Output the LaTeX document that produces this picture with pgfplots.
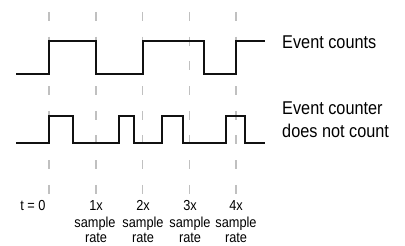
\documentclass[border=0pt]{standalone}
\usepackage{pgfplots}
\pgfplotsset{compat=1.18}
\usepackage{fontspec}
\setmainfont{Liberation Sans}
\newfontfamily\narrowfont[FakeStretch=0.88]{Liberation Sans}
\definecolor{dashgray}{HTML}{C0C0C0}
\definecolor{sig}{HTML}{111111}
\begin{document}
\begin{tikzpicture}
\begin{axis}[
  x=1pt, y=1pt, y dir=reverse,
  xmin=0, xmax=405, ymin=0, ymax=246,
  hide axis, clip=false, scale only axis,
]
% frame for bounding box
\addplot[draw=none] coordinates {(0,0) (405,246)};
% dashed sample-rate lines
\addplot[dashgray, line width=1.5pt, dash pattern=on 9pt off 15.7pt] coordinates {(49,12) (49,195)};
\addplot[dashgray, line width=1.5pt, dash pattern=on 9pt off 15.7pt] coordinates {(95.75,12) (95.75,195)};
\addplot[dashgray, line width=1.5pt, dash pattern=on 9pt off 15.7pt] coordinates {(142.5,12) (142.5,195)};
\addplot[dashgray, line width=1.5pt, dash pattern=on 9pt off 15.7pt] coordinates {(189.25,12) (189.25,195)};
\addplot[dashgray, line width=1.5pt, dash pattern=on 9pt off 15.7pt] coordinates {(236,12) (236,195)};
% top signal
\addplot[sig, line width=1.8pt] coordinates {
 (16,74) (49,74) (49,41) (96,41) (96,74) (143,74) (143,41) (204,41) (204,74) (236,74) (236,41) (265,41)};
% bottom signal
\addplot[sig, line width=1.8pt] coordinates {
 (16,143) (49,143) (49,116) (72.7,116) (72.7,143) (119.3,143) (119.3,116) (134,116) (134,143)
 (162.3,143) (162.3,116) (182.7,116) (182.7,143) (226,143) (226,116) (245,116) (245,143) (265,143)};
% legend texts
\node[anchor=base west, inner sep=0pt, font=\narrowfont\fontsize{18.5}{20}\selectfont] at (axis cs:282,48.7) {Event counts};
\node[anchor=base west, inner sep=0pt, font=\narrowfont\fontsize{18.5}{20}\selectfont] at (axis cs:282,115) {Event counter};
\node[anchor=base west, inner sep=0pt, font=\narrowfont\fontsize{18.5}{20}\selectfont] at (axis cs:282,138) {does not count};
% bottom labels
\node[anchor=base, inner sep=0pt, font=\narrowfont\fontsize{14.5}{15}\selectfont] at (axis cs:33,211) {t = 0};
\node[anchor=base, inner sep=0pt, font=\narrowfont\fontsize{14.5}{15}\selectfont] at (axis cs:96,211) {1x};
\node[anchor=base, inner sep=0pt, font=\narrowfont\fontsize{14.5}{15}\selectfont] at (axis cs:143,211) {2x};
\node[anchor=base, inner sep=0pt, font=\narrowfont\fontsize{14.5}{15}\selectfont] at (axis cs:190,211) {3x};
\node[anchor=base, inner sep=0pt, font=\narrowfont\fontsize{14.5}{15}\selectfont] at (axis cs:236,211) {4x};
\node[anchor=base, inner sep=0pt, font=\narrowfont\fontsize{14.5}{15}\selectfont] at (axis cs:95,227) {sample};
\node[anchor=base, inner sep=0pt, font=\narrowfont\fontsize{14.5}{15}\selectfont] at (axis cs:143,227) {sample};
\node[anchor=base, inner sep=0pt, font=\narrowfont\fontsize{14.5}{15}\selectfont] at (axis cs:190,227) {sample};
\node[anchor=base, inner sep=0pt, font=\narrowfont\fontsize{14.5}{15}\selectfont] at (axis cs:236,227) {sample};
\node[anchor=base, inner sep=0pt, font=\narrowfont\fontsize{14.5}{15}\selectfont] at (axis cs:96,242) {rate};
\node[anchor=base, inner sep=0pt, font=\narrowfont\fontsize{14.5}{15}\selectfont] at (axis cs:143,242) {rate};
\node[anchor=base, inner sep=0pt, font=\narrowfont\fontsize{14.5}{15}\selectfont] at (axis cs:190,242) {rate};
\node[anchor=base, inner sep=0pt, font=\narrowfont\fontsize{14.5}{15}\selectfont] at (axis cs:236,242) {rate};
\end{axis}
\end{tikzpicture}
\end{document}
